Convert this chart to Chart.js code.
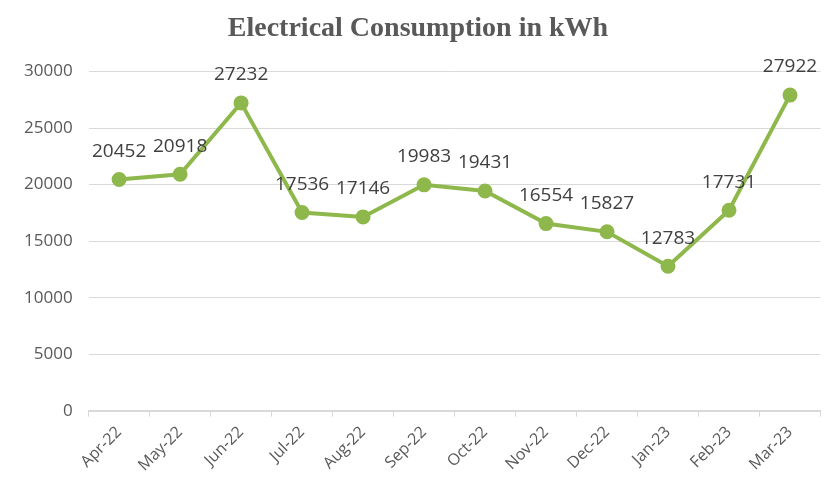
<!DOCTYPE html>
<html>
<head>
<meta charset="utf-8">
<script src="https://cdn.jsdelivr.net/npm/chart.js@4/dist/chart.umd.min.js"></script>
<style>
html,body{margin:0;padding:0;background:#fff;}
#wrap{width:830px;height:481px;position:relative;}
</style>
</head>
<body>
<div id="wrap"><canvas id="c"></canvas></div>
<script>
const categories = ['Apr-22','May-22','Jun-22','Jul-22','Aug-22','Sep-22','Oct-22','Nov-22','Dec-22','Jan-23','Feb-23','Mar-23'];
const consumption = [20452, 20918, 27232, 17536, 17146, 19983, 19431, 16554, 15827, 12783, 17731, 27922];
const yTicks = [0, 5000, 10000, 15000, 20000, 25000, 30000];
const chartTitle = 'Electrical Consumption in kWh';

const labelPlugin = {
  id: 'pointLabels',
  afterDatasetsDraw(chart) {
    const ctx = chart.ctx;
    const meta = chart.getDatasetMeta(0);
    ctx.save();
    ctx.font = '19px "Open Sans", sans-serif';
    ctx.fillStyle = '#404040';
    ctx.textAlign = 'center';
    ctx.textBaseline = 'middle';
    meta.data.forEach((pt, i) => {
      ctx.fillText(String(consumption[i]), pt.x, pt.y - 28);
    });
    ctx.restore();
  }
};

new Chart(document.getElementById('c'), {
  type: 'line',
  data: {
    labels: categories,
    datasets: [{
      data: consumption,
      borderColor: '#8fb84c',
      backgroundColor: '#8fb84c',
      borderWidth: 4,
      pointRadius: 5.5,
      pointHoverRadius: 5.5,
      pointBackgroundColor: '#8fb84c',
      pointBorderColor: '#8fb84c',
      tension: 0,
      clip: false
    }]
  },
  options: {
    responsive: true,
    maintainAspectRatio: false,
    animation: false,
    devicePixelRatio: 1,
    layout: { padding: { top: 0, right: 2, bottom: 0, left: 8 } },
    plugins: {
      legend: { display: false },
      tooltip: { enabled: false },
      title: {
        display: true,
        text: chartTitle,
        color: '#595959',
        font: { family: '"Liberation Serif", serif', size: 28, weight: 'bold' },
        padding: { top: 12, bottom: 26 }
      }
    },
    scales: {
      x: {
        offset: true,
        grid: { display: true, drawOnChartArea: false, drawTicks: true, tickLength: 6, offset: true, color: '#d9d9d9' },
        border: { display: true, color: '#d9d9d9', width: 2 },
        ticks: {
          minRotation: 45, maxRotation: 45,
          color: '#595959',
          font: { family: '"Open Sans", sans-serif', size: 16 },
          padding: 6
        }
      },
      y: {
        min: 0, max: 30000,
        afterBuildTicks(scale) { scale.ticks = yTicks.map(v => ({ value: v })); },
        grid: { color: '#d9d9d9', drawTicks: false },
        border: { display: false },
        ticks: {
          color: '#595959',
          font: { family: '"Open Sans", sans-serif', size: 17 },
          padding: 16,
          callback: (v) => String(v)
        }
      }
    }
  },
  plugins: [labelPlugin]
});
</script>
</body>
</html>
